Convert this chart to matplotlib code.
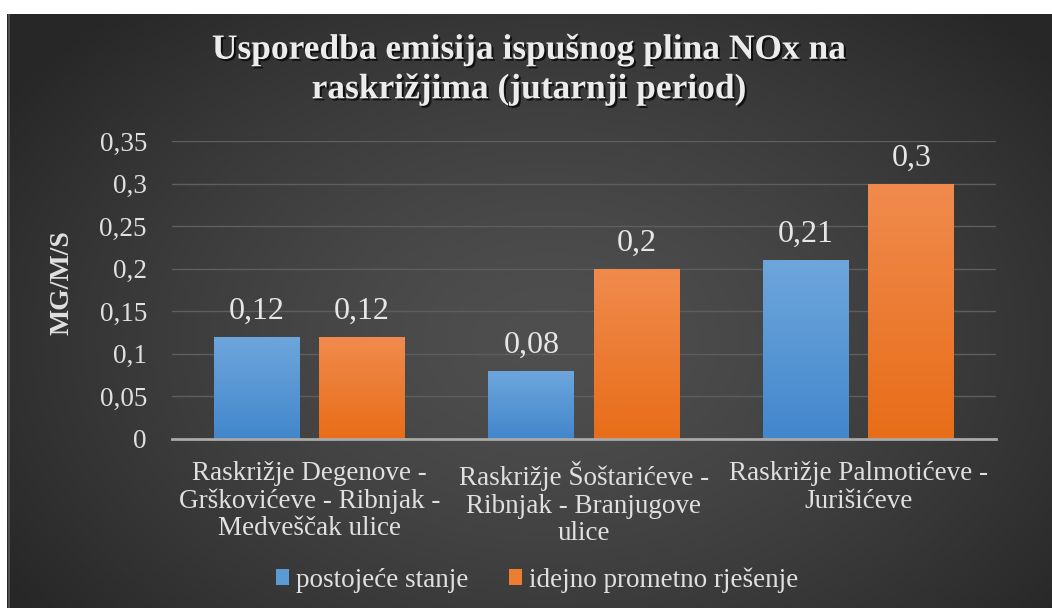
import numpy as np
import matplotlib
matplotlib.use("Agg")
import matplotlib.pyplot as plt
import matplotlib.patheffects as pe
from matplotlib.patches import Patch

SERIF = "Liberation Serif"
plt.rcParams['font.family'] = SERIF

# --- data ---
categories = [
    "Raskrižje Degenove -\nGrškovićeve - Ribnjak -\nMedveščak ulice",
    "Raskrižje Šoštarićeve -\nRibnjak - Branjugove\nulice",
    "Raskrižje Palmotićeve -\nJurišićeve",
]
series_names = ["postojeće stanje", "idejno prometno rješenje"]
postojece = [0.12, 0.08, 0.21]
idejno = [0.12, 0.20, 0.30]
y_ticks = [0, 0.05, 0.1, 0.15, 0.2, 0.25, 0.3, 0.35]
title = "Usporedba emisija ispušnog plina NOx na\nraskrižjima (jutarnji period)"
y_label = "MG/M/S"

W, H = 1052, 608
fig = plt.figure(figsize=(W / 100, H / 100), dpi=100)
fig.patch.set_facecolor("white")

# dark radial-gradient panel
bg = fig.add_axes([7 / W, 0, 1 - 7 / W, 1 - 14 / H])
bg.set_axis_off()
nx, ny = 400, 240
xx, yy = np.meshgrid(np.linspace(0, 1, nx), np.linspace(0, 1, ny))
r = np.sqrt(((xx - 0.52) / 0.62) ** 2 + ((yy - 0.55) / 0.75) ** 2)
r = np.clip(r, 0, 1)
inner, outer = 0.31, 0.155
val = outer + (inner - outer) * (1 - r ** 1.4)
bg.imshow(np.dstack([val, val, val]), aspect="auto", extent=[0, 1, 0, 1],
          origin="upper", interpolation="bicubic")
bg.plot([0.0015, 0.0015], [0, 1], color="#5a5a5a", lw=1.2, transform=bg.transAxes)
bg.set_xlim(0, 1)
bg.set_ylim(0, 1)

# plotting area
ax = fig.add_axes([172 / W, 1 - 439 / H, (996 - 172) / W, (439 - 141) / H])
ax.patch.set_alpha(0)

x = np.arange(len(categories))
bw = 0.313
off = bw / 2 + 0.035
b1 = ax.bar(x - off, postojece, bw, color="#5b9bd5", zorder=3)
b2 = ax.bar(x + off, idejno, bw, color="#ed7d31", zorder=3)


def gradient_fill(bars, top, bottom):
    grad = np.linspace(0, 1, 100).reshape(-1, 1)
    top = np.array(matplotlib.colors.to_rgb(top))
    bottom = np.array(matplotlib.colors.to_rgb(bottom))
    img = top[None, None, :] * (1 - grad[:, :, None]) + bottom[None, None, :] * grad[:, :, None]
    for b in bars:
        b.set_alpha(0)
        x0, y0 = b.get_x(), b.get_y()
        w, h = b.get_width(), b.get_height()
        im = ax.imshow(img, extent=[x0, x0 + w, y0, y0 + h], aspect="auto",
                       origin="upper", zorder=3)
        im.set_clip_path(b)


gradient_fill(b1, "#6ea6dc", "#4287cc")
gradient_fill(b2, "#f08b4e", "#e86d18")
ax.set_xlim(-0.5, len(categories) - 0.5)
ax.set_ylim(0, 0.35)
ax.set_aspect("auto")

fmt = lambda v: f"{v:g}".replace(".", ",")
for bars in (b1, b2):
    ax.bar_label(bars, labels=[fmt(b.get_height()) for b in bars], padding=8,
                 color="#e6e6e6", fontsize=23, family=SERIF, zorder=5)

ax.set_yticks(y_ticks)
ax.set_yticklabels([fmt(v) for v in y_ticks], family=SERIF)
ax.yaxis.grid(True, color="#5e5e5e", lw=1.0, zorder=0)
ax.set_axisbelow(True)
for s in ["top", "right", "left"]:
    ax.spines[s].set_visible(False)
ax.spines["bottom"].set_color("#a9a9a9")
ax.spines["bottom"].set_linewidth(2)
ax.spines["bottom"].set_zorder(4)
ax.tick_params(axis="y", length=0, pad=18, labelsize=19.5, labelcolor="#e0e0e0")
ax.tick_params(axis="x", length=0, pad=16, labelsize=19.5, labelcolor="#e0e0e0")
ax.set_xticks(x)
ax.set_xticklabels(categories, linespacing=1.12, family=SERIF)

fig.text(62 / W, 1 - 283 / H, y_label, rotation=90, ha="center", va="center",
         fontsize=20, fontweight="bold", color="#e0e0e0", family=SERIF)

fig.text(529 / W, 1 - 70 / H, title, ha="center", va="center", fontsize=25.5,
         fontweight="bold", color="#ececec", linespacing=1.26, family=SERIF,
         path_effects=[pe.withSimplePatchShadow(offset=(1.5, -1.5), shadow_rgbFace="black", alpha=0.7)])

handles = [Patch(facecolor="#5b9bd5"), Patch(facecolor="#ed7d31")]
fig.legend(handles, series_names, loc="center", bbox_to_anchor=(537 / W, 1 - 580 / H),
           ncol=2, frameon=False, prop={"family": SERIF, "size": 19.5}, labelcolor="#e0e0e0",
           handlelength=0.5, handleheight=0.5, handletextpad=0.25, columnspacing=1.5)

fig.savefig("out.png", dpi=100)
